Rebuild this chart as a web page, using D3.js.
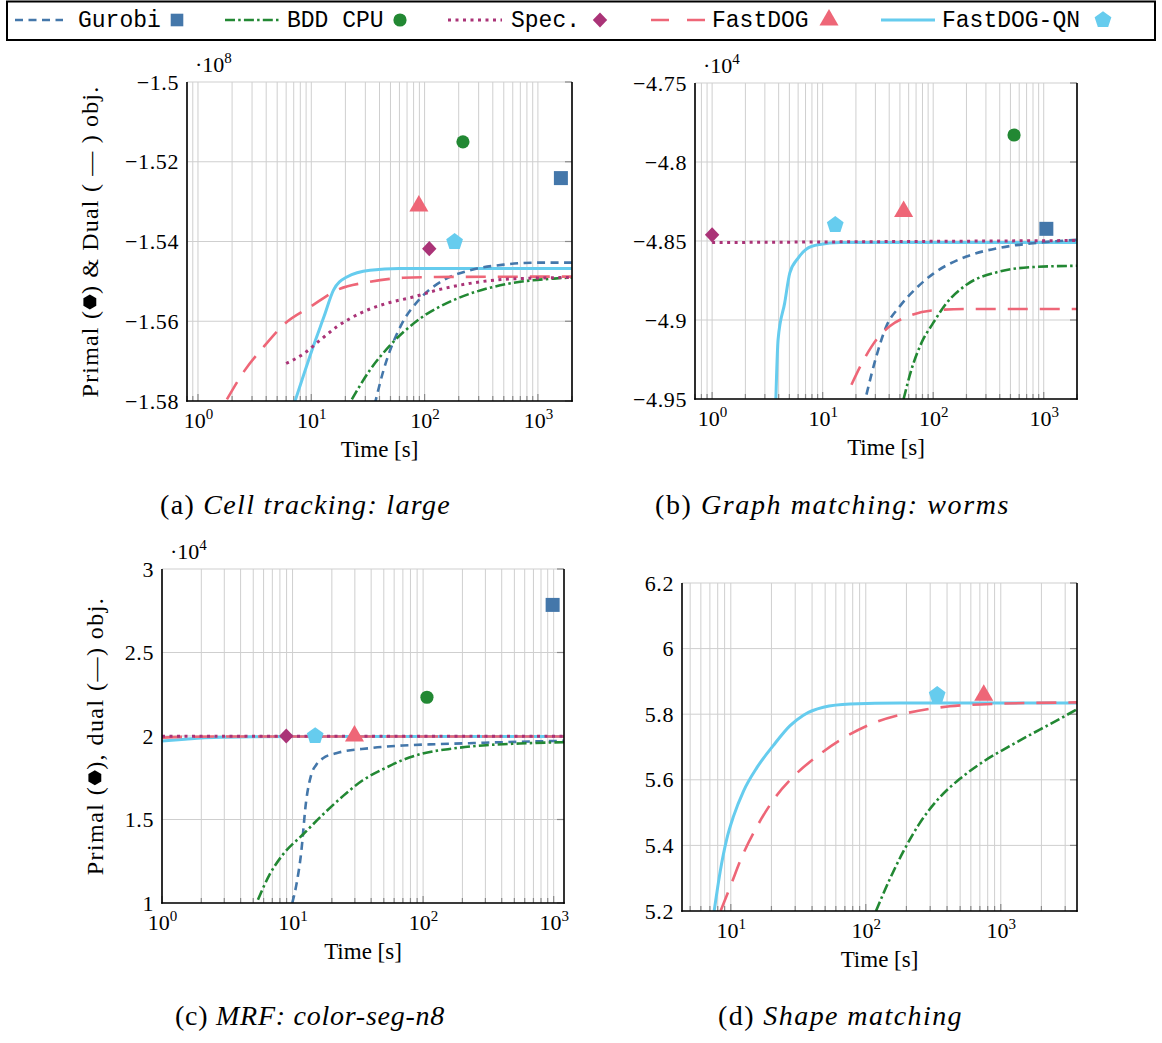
<!DOCTYPE html>
<html>
<head>
<meta charset="utf-8">
<script src="https://cdn.jsdelivr.net/npm/d3@7"></script>
<style>
  body { margin: 0; background: #fff; }
  svg { display: block; }
  text { font-family: "Liberation Serif", "Times New Roman", serif; fill: #000; }
</style>
</head>
<body>
<svg id="fig" width="1162" height="1043"></svg>
<script>
// ---------------- data ----------------
const seriesKeys   = ["gurobi", "bdd", "spec", "fastdog", "qn"];
const seriesNames  = ["Gurobi", "BDD CPU", "Spec.", "FastDOG", "FastDOG-QN"];
const seriesColors = ["#4477AA", "#228833", "#AA3377", "#EE6677", "#66CCEE"];
const seriesMarks  = ["square", "circle", "diamond", "triangle", "pentagon"];

// (a) Cell tracking: large  — objective in units of 1e8, time in seconds
const aYTicks   = [-1.58, -1.56, -1.54, -1.52, -1.5];
const aGurobi   = [[36.2,-1.581],[43.5,-1.5722],[61,-1.5614],[91.5,-1.5543],[147,-1.5497],[252,-1.5472],[500,-1.5458],[980,-1.5453],[2000,-1.5453]];
const aBDD      = [[22.8,-1.5796],[33,-1.5722],[49.8,-1.566],[91.5,-1.5593],[180,-1.5547],[355,-1.5518],[698,-1.5501],[1380,-1.5493],[2000,-1.549]];
const aSpec     = [[6.0,-1.5706],[8.6,-1.5681],[12,-1.5647],[16.8,-1.5614],[27,-1.558],[46.5,-1.5555],[80,-1.5539],[128.5,-1.5522],[252,-1.5505],[500,-1.5495],[2000,-1.549]];
const aFastDOG  = [[1.8,-1.5796],[2.53,-1.5727],[3.8,-1.5664],[5.9,-1.5605],[9.8,-1.5564],[16.8,-1.5522],[33,-1.5501],[65,-1.5491],[129,-1.5489],[2000,-1.5488]];
const aQN       = [[7.1,-1.5805],[10.5,-1.566],[13,-1.5587],[15.7,-1.5522],[20.6,-1.5489],[33,-1.5472],[60,-1.5468],[2000,-1.5468]];
const aPrimal   = { gurobi:[1596,-1.5241], bdd:[218,-1.515], spec:[110,-1.5418], fastdog:[89,-1.5311], qn:[184,-1.5401] };

// (b) Graph matching: worms — objective in units of 1e4
const bYTicks   = [-4.95, -4.9, -4.85, -4.8, -4.75];
const bGurobi   = [[24.9,-4.9472],[30.6,-4.923],[37.7,-4.904],[49.8,-4.8914],[70.5,-4.8798],[99.7,-4.8708],[200,-4.8598],[400,-4.8543],[800,-4.8514],[2000,-4.8493]];
const bBDD      = [[54,-4.95],[63.5,-4.9315],[78.2,-4.9146],[99.7,-4.902],[132,-4.8893],[200,-4.8777],[400,-4.8693],[800,-4.8665],[2000,-4.8657]];
const bSpec     = [[1,-4.851],[2000,-4.8497]];
const bFastDOG  = [[18.2,-4.941],[23.2,-4.926],[30.6,-4.9125],[40.4,-4.904],[61.3,-4.8973],[99.7,-4.8939],[200,-4.893],[2000,-4.893]];
const bQN       = [[3.77,-4.951],[3.95,-4.9125],[4.54,-4.889],[5.04,-4.8703],[6.0,-4.8608],[7.1,-4.8552],[9.4,-4.8522],[14.3,-4.851],[2000,-4.8509]];
const bPrimal   = { gurobi:[1056,-4.8423], bdd:[539,-4.7829], spec:[1.0,-4.8461], fastdog:[54,-4.8313], qn:[13,-4.8398] };

// (c) MRF: color-seg-n8 — objective in units of 1e4
const cYTicks   = [1, 1.5, 2, 2.5, 3];
const cGurobi   = [[9.95,1.0],[10.7,1.11],[11.6,1.29],[12.7,1.608],[13.9,1.768],[15.2,1.828],[17.1,1.867],[21.6,1.897],[38.8,1.927],[69.9,1.943],[126,1.951],[226,1.957],[407,1.963],[1200,1.971]];
const cBDD      = [[5.43,1.02],[6.67,1.17],[8.43,1.29],[12,1.41],[17.1,1.53],[24.3,1.64],[34.5,1.735],[52,1.81],[70,1.857],[99.4,1.895],[169,1.925],[303,1.945],[546,1.955],[1200,1.963]];
const cSpec     = [[1,1.998],[1200,1.998]];
const cFastDOG  = [[1,1.99],[1.5,1.995],[3,1.997],[1200,1.997]];
const cQN       = [[1,1.97],[1.5,1.98],[2,1.988],[3,1.993],[5,1.996],[10,1.997],[1200,1.997]];
const cPrimal   = { gurobi:[982,2.785], bdd:[107,2.232], spec:[8.95,2.0], fastdog:[29.8,2.0], qn:[14.9,2.0] };

// (d) Shape matching
const dYTicks   = [5.2, 5.4, 5.6, 5.8, 6, 6.2];
const dBDD      = [[119,5.2],[151,5.298],[189,5.38],[251,5.468],[354,5.547],[498,5.603],[740,5.655],[1167,5.703],[1945,5.753],[3063,5.797],[3670,5.815]];
const dFastDOG  = [[8.4,5.2],[9.9,5.274],[12.4,5.376],[15.6,5.457],[20.7,5.539],[29.1,5.61],[43.3,5.671],[68.2,5.727],[114,5.773],[200,5.803],[420,5.824],[984,5.832],[3670,5.836]];
const dQN       = [[7.53,5.2],[8.34,5.32],[9.34,5.42],[10.5,5.49],[12.4,5.565],[15.6,5.637],[20.7,5.705],[27.5,5.765],[34.5,5.797],[48.5,5.821],[76.4,5.831],[179,5.834],[3670,5.834]];
const dPrimal   = { fastdog:[748,5.858], qn:[338,5.859] };

// ---------------- styles ----------------
const lineStyle = {
  gurobi:  { dash: "8,5.5",          width: 2.6 },
  bdd:     { dash: "10,3.2,2.5,3.2", width: 2.6 },
  spec:    { dash: "3,4.5",          width: 3.0 },
  fastdog: { dash: "20,12",          width: 2.6 },
  qn:      { dash: null,             width: 3.0 }
};
const drawOrder = ["qn", "gurobi", "bdd", "fastdog", "spec"];
const SERIF = '"Liberation Serif", "Times New Roman", serif';
const MONO  = '"Liberation Mono", "DejaVu Sans Mono", monospace';

function polygonPath(n, r, startDeg) {
  const pts = d3.range(n).map(i => {
    const a = (startDeg + i * 360 / n) * Math.PI / 180;
    return [r * Math.cos(a), r * Math.sin(a)];
  });
  return "M" + pts.map(p => p[0].toFixed(2) + "," + p[1].toFixed(2)).join("L") + "Z";
}
function markerPath(kind, k) {
  k = k || 1;
  switch (kind) {
    case "square":   { const s = 14 * k; return `M${-s/2},${-s/2}h${s}v${s}h${-s}Z`; }
    case "circle":   { const r = 6.6 * k; return `M${r},0A${r},${r} 0 1,1 ${-r},0A${r},${r} 0 1,1 ${r},0Z`; }
    case "diamond":  { const w = 7.2 * k, h = 7.6 * k; return `M0,${-h}L${w},0L0,${h}L${-w},0Z`; }
    case "triangle": return polygonPath(3, 11 * k, -90);
    case "pentagon": return polygonPath(5, 8.8 * k, -90);
  }
}

const svg = d3.select("#fig");

// ---------------- legend ----------------
const legend = svg.append("g");
legend.append("rect").attr("x", 7).attr("y", 1.5).attr("width", 1148).attr("height", 38.5)
  .attr("fill", "none").attr("stroke", "#000").attr("stroke-width", 2);
const legendLineX = [[15, 63], [225, 280], [448, 502], [651, 706], [881, 935]];
const legendTextX = [78, 287, 511, 712, 942];
const legendMarkX = [177, 400, 600, 829, 1103];
seriesKeys.forEach((key, i) => {
  const st = lineStyle[key];
  legend.append("line")
    .attr("x1", legendLineX[i][0]).attr("x2", legendLineX[i][1]).attr("y1", 20).attr("y2", 20)
    .attr("stroke", seriesColors[i]).attr("stroke-width", st.width)
    .attr("stroke-dasharray", key === "fastdog" ? "18,18" : st.dash);
  legend.append("text").attr("x", legendTextX[i]).attr("y", 27)
    .attr("font-family", MONO).style("font-family", MONO).attr("font-size", 23).text(seriesNames[i]);
  legend.append("path").attr("transform", `translate(${legendMarkX[i]},20)`)
    .attr("d", markerPath(seriesMarks[i], seriesMarks[i] === "square" ? 0.9 : 1)).attr("fill", seriesColors[i]);
});

// ---------------- panels ----------------
const panels = [
  { rect: { l: 187, t: 82, r: 572, b: 401 }, xDomain: [0.8, 2000], yDomain: [-1.58, -1.5], yTicks: aYTicks,
    exponent: "8", yLabel: { parts: ["Primal (", ") & Dual ( \u2014 ) obj."], x: 98, width: 313 },
    caption: { tag: "(a)", title: "Cell tracking: large", x: 305.5, y: 514, width: 291 },
    lines: { gurobi: aGurobi, bdd: aBDD, spec: aSpec, fastdog: aFastDOG, qn: aQN }, primal: aPrimal },
  { rect: { l: 695, t: 83, r: 1077, b: 399 }, xDomain: [0.7, 2000], yDomain: [-4.95, -4.75], yTicks: bYTicks,
    exponent: "4", yLabel: null,
    caption: { tag: "(b)", title: "Graph matching: worms", x: 832.5, y: 514, width: 355 },
    lines: { gurobi: bGurobi, bdd: bBDD, spec: bSpec, fastdog: bFastDOG, qn: bQN }, primal: bPrimal },
  { rect: { l: 162, t: 569, r: 564, b: 903 }, xDomain: [1, 1200], yDomain: [1, 3], yTicks: cYTicks,
    exponent: "4", yLabel: { parts: ["Primal (", "), dual (\u2014) obj."], x: 103, width: 280 },
    caption: { tag: "(c)", title: "MRF: color-seg-n8", x: 310, y: 1025, width: 270 },
    lines: { gurobi: cGurobi, bdd: cBDD, spec: cSpec, fastdog: cFastDOG, qn: cQN }, primal: cPrimal },
  { rect: { l: 682, t: 583, r: 1077, b: 911 }, xDomain: [4.35, 3670], yDomain: [5.2, 6.2], yTicks: dYTicks,
    exponent: null, yLabel: null,
    caption: { tag: "(d)", title: "Shape matching", x: 840.5, y: 1025, width: 245 },
    lines: { bdd: dBDD, fastdog: dFastDOG, qn: dQN }, primal: dPrimal }
];

const fmtTick = v => String(v).replace("-", "\u2212");

panels.forEach((p, pi) => {
  const R = p.rect;
  const x = d3.scaleLog().domain(p.xDomain).range([R.l, R.r]);
  const y = d3.scaleLinear().domain(p.yDomain).range([R.b, R.t]);
  const g = svg.append("g");

  // log grid values: decades and minor steps inside the domain
  const lo = Math.floor(Math.log10(p.xDomain[0])), hi = Math.ceil(Math.log10(p.xDomain[1]));
  const decades = [], minors = [];
  for (let k = lo; k <= hi; k++) {
    for (let m = 1; m <= 9; m++) {
      const v = m * Math.pow(10, k);
      if (v < p.xDomain[0] * 0.9999 || v > p.xDomain[1] * 1.0001) continue;
      (m === 1 ? decades : minors).push(v);
    }
  }

  // grid
  const grid = g.append("g").attr("stroke", "#cfcfcf").attr("stroke-width", 1);
  grid.selectAll(".vx").data(decades.concat(minors)).join("line")
    .attr("x1", d => x(d)).attr("x2", d => x(d)).attr("y1", R.t).attr("y2", R.b);
  grid.selectAll(".hy").data(p.yTicks).join("line")
    .attr("x1", R.l).attr("x2", R.r).attr("y1", d => y(d)).attr("y2", d => y(d));

  // inner tick marks
  const ticks = g.append("g").attr("stroke", "#8a8a8a").attr("stroke-width", 1.2);
  ticks.selectAll(".tb").data(decades.concat(minors)).join("line")
    .attr("x1", d => x(d)).attr("x2", d => x(d)).attr("y1", R.b)
    .attr("y2", d => R.b - (decades.includes(d) ? 7 : 5));
  ticks.selectAll(".tr").data(p.yTicks).join("line")
    .attr("x1", R.r - 7).attr("x2", R.r).attr("y1", d => y(d)).attr("y2", d => y(d));

  // series lines
  const clipId = "clip" + pi;
  g.append("clipPath").attr("id", clipId).append("rect")
    .attr("x", R.l).attr("y", R.t).attr("width", R.r - R.l).attr("height", R.b - R.t);
  const line = d3.line().x(d => x(d[0])).y(d => y(d[1])).curve(d3.curveMonotoneX);
  const lg = g.append("g").attr("clip-path", `url(#${clipId})`);
  drawOrder.forEach(key => {
    const data = p.lines[key];
    if (!data) return;
    const i = seriesKeys.indexOf(key);
    lg.append("path").datum(data).attr("d", line)
      .attr("fill", "none").attr("stroke", seriesColors[i])
      .attr("stroke-width", lineStyle[key].width)
      .attr("stroke-dasharray", lineStyle[key].dash);
  });

  // frame: top is a grid line, the other three sides are black
  const frame = g.append("g").attr("stroke", "#000").attr("stroke-width", 1.6);
  frame.append("line").attr("x1", R.l).attr("x2", R.l).attr("y1", R.t).attr("y2", R.b + 0.8);
  frame.append("line").attr("x1", R.l - 0.8).attr("x2", R.r + 0.8).attr("y1", R.b).attr("y2", R.b);
  frame.append("line").attr("x1", R.r).attr("x2", R.r).attr("y1", R.t).attr("y2", R.b + 0.8);

  // primal markers
  seriesKeys.forEach((key, i) => {
    const pt = p.primal[key];
    if (!pt) return;
    g.append("path").attr("transform", `translate(${x(pt[0])},${y(pt[1])})`)
      .attr("d", markerPath(seriesMarks[i])).attr("fill", seriesColors[i]);
  });

  // x axis labels (powers of ten)
  const xAxis = g.append("g").attr("transform", `translate(0,${R.b})`)
    .call(d3.axisBottom(x).tickValues(decades).tickSize(0).tickFormat(() => ""));
  xAxis.select(".domain").remove();
  xAxis.attr("font-family", SERIF).attr("font-size", 22);
  xAxis.selectAll("text").attr("y", 27).attr("dy", 0)
    .attr("font-family", SERIF).style("font-family", SERIF)
    .each(function (d) {
      const t = d3.select(this);
      t.text("10");
      t.append("tspan").attr("dy", -9).attr("font-size", 15).text(Math.round(Math.log10(d)));
    });

  // y axis labels
  const yAxis = g.append("g").attr("transform", `translate(${R.l},0)`)
    .call(d3.axisLeft(y).tickValues(p.yTicks).tickSize(0).tickPadding(8).tickFormat(fmtTick));
  yAxis.select(".domain").remove();
  yAxis.attr("font-family", SERIF).attr("font-size", 22);
  yAxis.selectAll("text").attr("font-family", SERIF).style("font-family", SERIF).attr("letter-spacing", 0.6);

  // scale factor above the axis
  if (p.exponent) {
    const e = g.append("text").attr("x", R.l + 8).attr("y", R.t - 10).attr("font-size", 22).text("\u00B710");
    e.append("tspan").attr("dy", -9).attr("font-size", 15).text(p.exponent);
  }

  // x axis title
  g.append("text").attr("x", (R.l + R.r) / 2).attr("y", R.b + 56)
    .attr("text-anchor", "middle").attr("font-size", 23).text("Time [s]");

  // y axis title with a filled hexagon glyph
  if (p.yLabel) {
    const fs = 24, cy = (R.t + R.b) / 2;
    const yl = g.append("g").attr("transform", `translate(${p.yLabel.x},${cy}) rotate(-90)`);
    const t1 = yl.append("text").attr("font-size", fs).text(p.yLabel.parts[0]);
    const t2 = yl.append("text").attr("font-size", fs).text(p.yLabel.parts[1]);
    const hexW = fs * 0.66;
    const n = p.yLabel.parts[0].length + p.yLabel.parts[1].length + 1;
    const nat = t1.node().getComputedTextLength() + t2.node().getComputedTextLength() + hexW;
    const ls = (p.yLabel.width - nat) / n;
    t1.attr("letter-spacing", ls); t2.attr("letter-spacing", ls);
    const w1 = t1.node().getComputedTextLength();
    const w2 = t2.node().getComputedTextLength();
    const x0 = -(w1 + hexW + w2) / 2;
    t1.attr("x", x0);
    yl.append("path").attr("transform", `translate(${x0 + w1 + hexW / 2},${-fs * 0.34})`)
      .attr("d", polygonPath(6, fs * 0.31, 0)).attr("fill", "#000");
    t2.attr("x", x0 + w1 + hexW);
  }

  // sub-figure caption
  const c = p.caption;
  const ct = svg.append("text").attr("x", c.x).attr("y", c.y).attr("text-anchor", "middle").attr("font-size", 28);
  ct.append("tspan").text(c.tag + " ");
  ct.append("tspan").attr("font-style", "italic").text(c.title);
  const nat = ct.node().getComputedTextLength();
  const nChars = (c.tag + " " + c.title).length;
  ct.attr("letter-spacing", Math.max(0, (c.width - nat) / nChars));
});
</script>
</body>
</html>
